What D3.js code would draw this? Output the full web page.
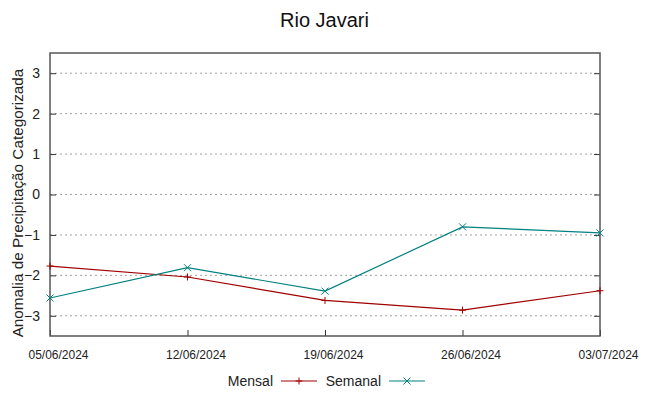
<!DOCTYPE html>
<html>
<head>
<meta charset="utf-8">
<script src="https://cdn.jsdelivr.net/npm/d3@7"></script>
<style>
  body { margin: 0; background: #fff; }
  svg { display: block; font-family: "Liberation Sans", Arial, sans-serif; }
</style>
</head>
<body>
<div id="chart"></div>
<script>
// Anomalia de precipitação - Rio Javari
const dates = ["2024-06-05", "2024-06-12", "2024-06-19", "2024-06-26", "2024-07-03"];
const mensal = [-1.77, -2.04, -2.62, -2.86, -2.38];
const semanal = [-2.56, -1.81, -2.39, -0.80, -0.95];
const yTicks = [-3, -2, -1, 0, 1, 2, 3];

const w = 649;
const h = 396;
const margin = { top: 53, right: 49, bottom: 60, left: 50 };

const parse = d3.timeParse("%Y-%m-%d");
const fmt = d3.timeFormat("%d/%m/%Y");
const dateArr = dates.map(parse);

const xScale = d3.scaleTime()
  .domain(d3.extent(dateArr))
  .range([margin.left, w - margin.right]);

const yScale = d3.scaleLinear()
  .domain([-3.5, 3.5])
  .range([h - margin.bottom, margin.top]);

const svg = d3.select("#chart").append("svg")
  .attr("width", w)
  .attr("height", h);

// grid lines
svg.append("g")
  .selectAll("line")
  .data(yTicks)
  .enter()
  .append("line")
  .attr("x1", margin.left)
  .attr("x2", w - margin.right)
  .attr("y1", d => yScale(d))
  .attr("y2", d => yScale(d))
  .attr("stroke", "#a0a0a0")
  .attr("stroke-width", 1)
  .attr("stroke-dasharray", "2,3");

// axes
const yAxis = d3.axisLeft(yScale).tickValues(yTicks).tickSize(-6).tickPadding(10).tickFormat(d3.format("d"));
const yAxisR = d3.axisRight(yScale).tickValues(yTicks).tickSize(-6).tickFormat("");
const xAxis = d3.axisBottom(xScale).tickValues(dateArr).tickSize(-6).tickPadding(14).tickFormat(fmt);

const gy = svg.append("g").attr("transform", `translate(${margin.left},0)`).call(yAxis);
const gyr = svg.append("g").attr("transform", `translate(${w - margin.right},0)`).call(yAxisR);
const gx = svg.append("g").attr("transform", `translate(0,${h - margin.bottom})`).call(xAxis);

[gy, gyr, gx].forEach(g => {
  g.select(".domain").remove();
  g.selectAll(".tick line").attr("stroke", "#333").attr("stroke-width", 1);
});
gy.selectAll("text").attr("font-size", 14).attr("fill", "#222");
gx.selectAll("text").attr("font-size", 12).attr("fill", "#222").attr("dx", 8);

// frame
svg.append("rect")
  .attr("x", margin.left)
  .attr("y", margin.top)
  .attr("width", w - margin.left - margin.right)
  .attr("height", h - margin.top - margin.bottom)
  .attr("fill", "none")
  .attr("stroke", "#555")
  .attr("stroke-width", 1.5);

// series
const series = [
  { name: "Mensal", values: mensal, color: "#a00000", mark: "plus" },
  { name: "Semanal", values: semanal, color: "#008080", mark: "cross" }
];

const line = d3.line()
  .x((d, i) => xScale(dateArr[i]))
  .y(d => yScale(d));

function marker(g, x, y, kind, color) {
  const s = 3.5;
  if (kind === "plus") {
    g.append("path").attr("d", `M${x - s},${y}H${x + s}M${x},${y - s}V${y + s}`)
      .attr("stroke", color).attr("stroke-width", 1);
  } else {
    g.append("path").attr("d", `M${x - s},${y - s}L${x + s},${y + s}M${x - s},${y + s}L${x + s},${y - s}`)
      .attr("stroke", color).attr("stroke-width", 1);
  }
}

series.forEach(s => {
  const g = svg.append("g");
  g.append("path")
    .datum(s.values)
    .attr("d", line)
    .attr("fill", "none")
    .attr("stroke", s.color)
    .attr("stroke-width", 1.2);
  s.values.forEach((v, i) => marker(g, xScale(dateArr[i]), yScale(v), s.mark, s.color));
});

// title and axis label
svg.append("text")
  .attr("x", w / 2)
  .attr("y", 27)
  .attr("text-anchor", "middle")
  .attr("font-size", 20)
  .attr("fill", "#111")
  .text("Rio Javari");

svg.append("text")
  .attr("transform", `translate(23, 203) rotate(-90)`)
  .attr("text-anchor", "middle")
  .attr("font-size", 15.3)
  .attr("fill", "#222")
  .text("Anomalia de Precipitação Categorizada");

// legend
const legend = [
  { name: "Mensal", textX: 273, lineX: 281, color: "#a00000", mark: "plus" },
  { name: "Semanal", textX: 381, lineX: 389, color: "#008080", mark: "cross" }
];
const ly = 381;
legend.forEach(l => {
  svg.append("text")
    .attr("x", l.textX)
    .attr("y", ly + 5)
    .attr("text-anchor", "end")
    .attr("font-size", 14)
    .attr("fill", "#222")
    .text(l.name);
  svg.append("line")
    .attr("x1", l.lineX).attr("x2", l.lineX + 36)
    .attr("y1", ly).attr("y2", ly)
    .attr("stroke", l.color).attr("stroke-width", 1.2);
  marker(svg, l.lineX + 18, ly, l.mark, l.color);
});
</script>
</body>
</html>
